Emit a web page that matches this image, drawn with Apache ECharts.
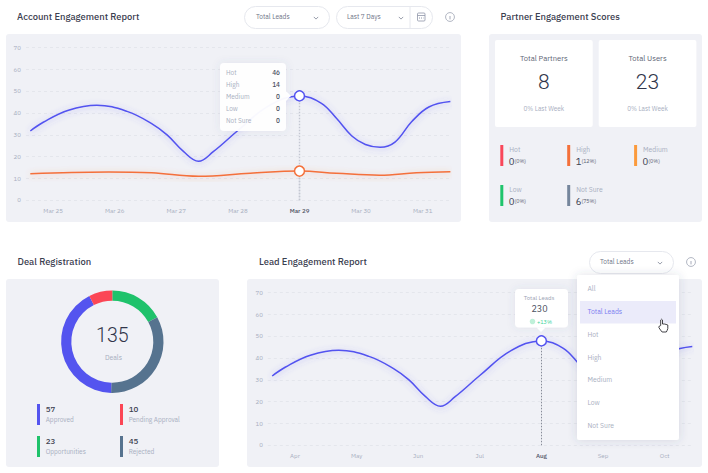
<!DOCTYPE html>
<html><head><meta charset="utf-8">
<style>html,body{margin:0;padding:0;background:#fff}#c{width:708px;height:473px}</style>
<script src="https://cdn.jsdelivr.net/npm/echarts@6/dist/echarts.min.js"></script>
</head><body><div id="c"></div>
<script>
const accountDays = ['Mar 25','Mar 26','Mar 27','Mar 28','Mar 29','Mar 30','Mar 31'];
const leadMonths = ['Apr','May','Jun','Jul','Aug','Sep','Oct'];
const yTicks = [0,10,20,30,40,50,60,70];
const hotCurve = [[-0.37,31.8],[-0.16,35.8],[0.25,41.3],[0.71,43.6],[1.2,40.8],[1.6,35.2],[1.85,30],[2.12,22.3],[2.36,17.9],[2.6,22.3],[3,32],[3.5,43.3],[4,47.9],[4.35,44.6],[4.6,37.6],[4.85,29.5],[5.07,25.6],[5.31,24.3],[5.55,26.7],[5.82,36],[6.1,42.8],[6.45,45.3]];
const highCurve = [[-0.37,12.2],[0.3,12.8],[0.9,13],[1.6,12.6],[2.36,11],[3.2,12.4],[4,13.4],[4.6,12.4],[5.3,11.5],[5.9,12.6],[6.45,13.1]];
const leadCurve = hotCurve;
const hotFocus = [[4,47.9]];
const highFocus = [[4,13.4]];
const tooltipRows = [['Hot','46'],['High','14'],['Medium','0'],['Low','0'],['Not Sure','0']];
const partnerCards = [['Total Partners','8','0% Last Week'],['Total Users','23','0% Last Week']];
const partnerScores = [['Hot','0','(0%)','#f9475a'],['High','1','(12%)','#f4703a'],['Medium','0','(0%)','#fb9a3c'],['Low','0','(0%)','#1fc46c'],['Not Sure','6','(75%)','#75869c']];
const dealNames = ['Opportunities','Rejected','Approved','Pending Approval'];
const dealValues = [23,45,57,10];
const dealColors = ['#1fc26b','#56738f','#5454ef','#fb4655'];
const dealLegendOrder = [2,3,0,1];
const menuItems = ['All','Total Leads','Hot','High','Medium','Low','Not Sure'];

const FONT = '"IBM Plex Sans", "Inter", "Noto Sans", sans-serif', NUM = 'Roboto, "Liberation Sans", sans-serif';
const PANEL='#f0f1f6', DARK='#3b4050', MUTE='#a7aec0', BLUE='#5252f0', ORANGE='#f4703a';
const G = [];
function rect(x,y,w,h,r,fill,extra){G.push(Object.assign({type:'rect',shape:{x,y,width:w,height:h,r},style:{fill},z:-10},extra||{}));}
function text(x,y,t,size,color,opt){opt=opt||{};G.push({type:'text',x,y,z:opt.z==null?5:opt.z,style:Object.assign({text:t,fontSize:size,fill:color,fontFamily:opt.font||FONT,fontWeight:opt.weight||400,align:opt.align||'left',verticalAlign:'middle'},opt.rich?{rich:opt.rich}:{})});}
function pill(x,y,w,h,z){G.push({type:'rect',z:z,shape:{x:x+.5,y:y+.5,width:w,height:h,r:h/2},style:{fill:'#fff',stroke:'#e6e8ee',lineWidth:1}});}
function chevron(x,y,z){G.push({type:'polyline',z:z,shape:{points:[[x-2.2,y-1.1],[x,y+1.1],[x+2.2,y-1.1]]},style:{fill:'none',stroke:'#7d8496',lineWidth:.8}});}
function info(x,y,z){G.push({type:'circle',z:z,shape:{cx:x,cy:y,r:4.4},style:{fill:'#fff',stroke:'#8f96a8',lineWidth:.7}});G.push({type:'line',z:z,shape:{x1:x,y1:y-1,x2:x,y2:y+2.4},style:{stroke:'#8f96a8',lineWidth:.8}});G.push({type:'circle',z:z,shape:{cx:x,cy:y-2.2,r:.5},style:{fill:'#8f96a8'}});}

rect(6,34,455,188,3,PANEL); rect(489,34,213,188,3,PANEL); rect(6,279,213,188,3,PANEL); rect(247,279,455,188,3,PANEL);
text(17,16.6,'Account Engagement Report',9.4,DARK,{weight:500});
text(500.5,16.6,'Partner Engagement Scores',9.4,DARK,{weight:500});
text(17.5,261.6,'Deal Registration',9.4,DARK,{weight:500});
text(259,261.6,'Lead Engagement Report',9.4,DARK,{weight:500});

// header controls
pill(244,6,85,22,1); text(256,16.5,'Total Leads',6.6,'#6d7486'); chevron(316,18,1);
pill(336,6,96,22,1); text(347,16.5,'Last 7 Days',6.6,'#6d7486'); chevron(401,18,1);
G.push({type:'line',z:1,shape:{x1:410,y1:6,x2:410,y2:28},style:{stroke:'#e6e8ee',lineWidth:1}});
G.push({type:'rect',z:1,shape:{x:417.5,y:13,width:7.5,height:8,r:1},style:{fill:'none',stroke:'#8f96a8',lineWidth:.8}});
G.push({type:'line',z:1,shape:{x1:417.5,y1:15.5,x2:425,y2:15.5},style:{stroke:'#8f96a8',lineWidth:.8}});
G.push({type:'line',z:1,shape:{x1:419,y1:18,x2:423.5,y2:18},style:{stroke:'#8f96a8',lineWidth:1,lineDash:[1,1]}});
info(450,17,1);

// account tooltip
const shadow={shadowBlur:8,shadowColor:'rgba(80,90,130,.10)'};
rect(220,63,66,68,4,'rgba(255,255,255,.96)',{z:100,style:Object.assign({fill:'rgba(255,255,255,.96)'},shadow)});
G.push({type:'polygon',z:100,shape:{points:[[286,91],[291,96],[286,101]]},style:{fill:'rgba(255,255,255,.96)'}});
tooltipRows.forEach((r,i)=>{const y=72.7+i*12;
  text(226,y,r[0],6.5,MUTE,{z:101}); text(280,y,r[1],6.5,'#4a4f5e',{z:101,align:'right',weight:500});});

// partner cards
partnerCards.forEach((c,i)=>{const x=495+i*103.7,cx=x+48.8;
  rect(x,40,97.7,87,2,'#fff');
  text(cx,58.2,c[0],7.6,'#5d6374',{align:'center'});
  text(cx,82,c[1],21,'#30354a',{align:'center',font:NUM,weight:300});
  text(cx,108,c[2],6.4,MUTE,{align:'center'});
});
// partner scores
partnerScores.forEach((s,i)=>{const col=i%3,row=Math.floor(i/3),x=500.3+col*66.9,y=145+row*40;
  rect(x,y,3,21,0,s[3]);
  text(x+9,y+4,s[0],6.8,MUTE);
  text(x+8.5,y+16,'{a|'+s[1]+'}{b|'+s[2]+'}',8,DARK,{rich:{a:{fontSize:9.5,fill:DARK,fontFamily:FONT,fontWeight:400},b:{fontSize:5.3,fill:'#5d6374',fontFamily:FONT}}});
});
// deal centre + legend
text(112.3,335,String(dealValues.reduce((a,b)=>a+b,0)),19.5,'#30354a',{align:'center',font:NUM,weight:300,z:5});
text(113.5,357,'Deals',6.8,MUTE,{align:'center',z:5});
dealLegendOrder.forEach((d,i)=>{const col=i%2,row=Math.floor(i/2),x=37+col*83,y=404+row*32;
  rect(x,y,3,21,0,dealColors[d]);
  text(x+8.7,y+4.7,String(dealValues[d]),8,DARK,{weight:500});
  text(x+8.7,y+15,dealNames[d],6.5,MUTE);
});
// lead controls
pill(589,251,84,22,1); text(600,261.5,'Total Leads',6.6,'#6d7486'); chevron(660,263,1);
info(691,262,1);
// lead tooltip
rect(515,289,53,38.5,4,'#fff',{z:100,style:Object.assign({fill:'#fff'},shadow)});
G.push({type:'polygon',z:100,shape:{points:[[536.5,327.5],[541,332],[545.5,327.5]]},style:{fill:'#fff'}});
text(539,298,'Total Leads',6,'#9aa1b3',{align:'center',z:101});
text(539.5,308,'230',9,'#4a4f5e',{align:'center',z:101});
G.push({type:'circle',z:101,shape:{cx:532.5,cy:321.5,r:2.8},style:{fill:'#bff0d9'}});
text(537,321.5,'+13%',5.5,'#3bd39a',{z:101});
// dropdown menu
rect(577,275,102,165,2,'#fff',{z:110,style:{fill:'#fff',shadowBlur:10,shadowColor:'rgba(60,70,110,.16)'}});
rect(580,301,96,22.5,0,'#ebebfa',{z:111});
menuItems.forEach((m,i)=>{text(587.5,288.7+i*22.8,m,6.8,i===1?'#7b7bf0':MUTE,{z:112});});
// hand cursor
G.push({type:'polygon',z:120,x:658.5,y:319,shape:{points:[[2.2,6.5],[2.2,1],[3.1,.2],[4,1],[4,5],[5.8,5],[7.6,5.4],[9.3,6],[9.3,9.5],[8.6,11.5],[7.8,13],[3.6,13],[2,11],[.4,8.6],[.6,7.2],[1.4,7]]},style:{fill:'#fff',stroke:'#2e2e33',lineWidth:.9}});

function xAxis(idx,labels,focus){return {type:'value',gridIndex:idx,min:-0.44,max:6.45,interval:0.04,
  axisLine:{show:false},axisTick:{show:false},splitLine:{show:false},
  axisLabel:{fontSize:6.2,color:'#a7aec0',fontFamily:FONT,margin:7.5,showMinLabel:true,showMaxLabel:true,hideOverlap:false,
    formatter:v=>{const t=Math.round(v*100)/100;if(!Number.isInteger(t)||!labels[t])return '';return t===focus?'{hl|'+labels[t]+'}':labels[t];},
    rich:{hl:{fontSize:6.2,color:'#4a4f5e',fontWeight:500,fontFamily:FONT}}}};}
function yAxis(idx){return {type:'value',gridIndex:idx,min:yTicks[0],max:yTicks[yTicks.length-1],interval:yTicks[1]-yTicks[0],
  axisLine:{show:false},axisTick:{show:false},
  splitLine:{lineStyle:{color:'#e1e3ea',type:[3,3],width:.8}},
  axisLabel:{fontSize:6.2,color:'#a7aec0',fontFamily:FONT,margin:5}};}
function curve(idx,data,color,name,dash,dashColor,dashW,focus){return {type:'line',name,xAxisIndex:idx,yAxisIndex:idx,data,smooth:0.4,symbol:'none',z:3,
  lineStyle:{color,width:1.5,shadowBlur:6,shadowColor:color+'66',shadowOffsetY:1},
  markLine:dash?{silent:true,symbol:'none',label:{show:false},z:2,animation:false,
    lineStyle:{color:dashColor,type:dash,width:dashW},data:[[{coord:[focus[0][0],0]},{coord:focus[0]}]]}:undefined};}
function dot(idx,data,color){return {type:'scatter',xAxisIndex:idx,yAxisIndex:idx,data,symbol:'circle',symbolSize:10,z:6,itemStyle:{color:'#fff',borderColor:color,borderWidth:1.5,opacity:1}};}

const chart = echarts.init(document.getElementById('c'),null,{renderer:'svg'});
chart.setOption({
  animation:false,backgroundColor:'#fff',
  grid:[{left:26,top:47.7,width:424.4,height:152.6},{left:267.9,top:292.7,width:424.4,height:152.6}],
  xAxis:[xAxis(0,accountDays,4),xAxis(1,leadMonths,4)],
  yAxis:[yAxis(0),yAxis(1)],
  graphic:{elements:G},
  series:[
    curve(0,hotCurve,BLUE,'Hot',[1.5,1.5],'#c3c7d2',1.4,hotFocus),
    curve(0,highCurve,ORANGE,'High',[1.5,1.5],'#c3c7d2',1.4,highFocus),
    dot(0,hotFocus,BLUE),dot(0,highFocus,ORANGE),
    curve(1,leadCurve,BLUE,'Total Leads',[1.5,1.5],'#6d7282',.8,hotFocus),
    dot(1,hotFocus,BLUE),
    {type:'pie',center:[112.3,341.7],radius:[41,51.2],startAngle:90,clockwise:true,silent:true,label:{show:false},labelLine:{show:false},z:3,
      data:dealNames.map((n,i)=>({name:n,value:dealValues[i],itemStyle:{color:dealColors[i]}}))}
  ]
});
</script></body></html>
